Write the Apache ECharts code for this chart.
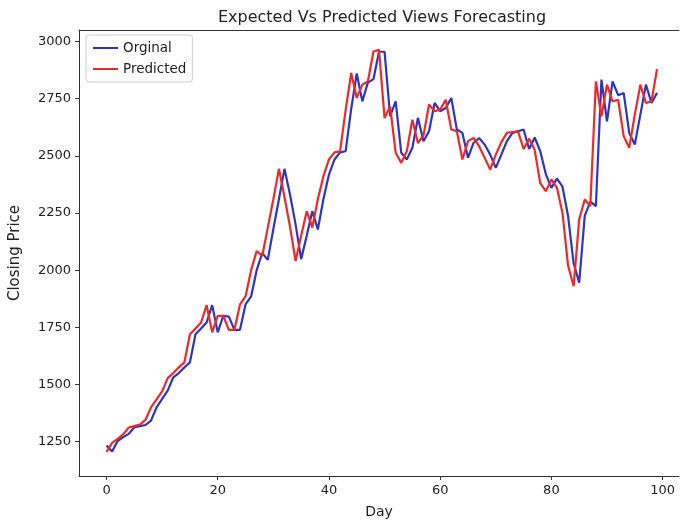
<!DOCTYPE html>
<html>
<head>
<meta charset="utf-8">
<script src="https://cdn.jsdelivr.net/npm/echarts@6/dist/echarts.min.js"></script>
<style>html,body{margin:0;padding:0;background:#fff;}#c{width:680px;height:524px;}</style>
</head>
<body>
<div id="c"></div>
<script>
const seriesNames = ['Orginal', 'Predicted'];
const original = [1233,1207,1253,1270,1284,1313,1318,1323,1342,1400,
  1437,1473,1531,1550,1575,1597,1720,1745,1771,1847,
  1728,1800,1797,1739,1739,1850,1885,2000,2075,2045,
  2180,2310,2443,2330,2200,2048,2150,2258,2178,2310,
  2418,2484,2515,2520,2705,2860,2738,2820,2835,2955,
  2955,2673,2738,2513,2484,2535,2666,2564,2607,2731,
  2695,2709,2753,2615,2600,2491,2556,2578,2549,2505,
  2447,2505,2564,2600,2607,2615,2530,2580,2520,2420,
  2360,2400,2365,2237,2030,1945,2237,2300,2280,2833,
  2651,2825,2765,2775,2600,2549,2680,2811,2731,2775];
const predicted = [1205,1245,1262,1282,1312,1318,1325,1345,1400,1435,
  1470,1528,1550,1575,1597,1720,1745,1771,1847,1728,
  1800,1800,1739,1739,1850,1885,2000,2084,2062,2186,
  2310,2443,2320,2190,2040,2150,2258,2186,2310,2410,
  2484,2515,2520,2700,2862,2753,2811,2825,2956,2963,
  2665,2716,2513,2469,2520,2658,2556,2590,2724,2695,
  2702,2745,2615,2607,2484,2564,2578,2542,2491,2440,
  2505,2560,2600,2604,2607,2530,2575,2525,2380,2345,
  2397,2360,2250,2020,1930,2222,2309,2280,2825,2673,
  2811,2738,2745,2586,2535,2680,2811,2731,2738,2879];
const xTicks = [0,20,40,60,80,100];
const yTicks = [1250,1500,1750,2000,2250,2500,2750,3000];

const FONT = 'DejaVu Sans';
const chart = echarts.init(document.getElementById('c'), null, {renderer: 'canvas'});
const toPairs = arr => arr.map((v, i) => [i, v]);
const X_MIN = -4.95, X_MAX = 102.95;
const axisLineStyle = {color: '#333', width: 1};
chart.setOption({
  animation: false,
  backgroundColor: '#fff',
  title: {
    text: 'Expected Vs Predicted Views Forecasting',
    left: 382, top: 10, padding: 0, textAlign: 'center',
    textStyle: {fontFamily: FONT, fontSize: 16, fontWeight: 'normal', color: '#222'}
  },
  grid: {left: 78, right: 1, top: 30, bottom: 46, show: false},
  legend: {
    orient: 'vertical', left: 86, top: 35, padding: [6, 6, 6, 7],
    itemWidth: 25, itemHeight: 2, itemGap: 7, icon: 'rect',
    backgroundColor: 'rgba(255,255,255,0.8)', borderColor: '#ccc', borderWidth: 1, borderRadius: 3,
    textStyle: {fontFamily: FONT, fontSize: 13.5, color: '#222'},
    data: seriesNames
  },
  xAxis: [{
    type: 'value', min: X_MIN, max: X_MAX, position: 'bottom',
    name: 'Day', nameLocation: 'middle', nameGap: 29,
    nameTextStyle: {fontFamily: FONT, fontSize: 14, color: '#222'},
    splitLine: {show: false},
    axisLine: {show: true, onZero: false, lineStyle: axisLineStyle},
    axisTick: {show: true, length: 4, lineStyle: axisLineStyle, customValues: xTicks},
    axisLabel: {color: '#222', fontSize: 13, fontFamily: FONT, margin: 8, customValues: xTicks,
      formatter: v => String(v)}
  }, {
    type: 'value', min: X_MIN, max: X_MAX, position: 'top',
    splitLine: {show: false},
    axisLine: {show: true, onZero: false, lineStyle: axisLineStyle},
    axisTick: {show: false}, axisLabel: {show: false}
  }],
  yAxis: {
    type: 'value', min: 1100, max: 3050,
    name: 'Closing Price', nameLocation: 'middle', nameGap: 56,
    nameTextStyle: {fontFamily: FONT, fontSize: 15, color: '#222'},
    splitLine: {show: false},
    axisLine: {show: true, onZero: false, lineStyle: axisLineStyle},
    axisTick: {show: true, length: 4, lineStyle: axisLineStyle, customValues: yTicks},
    axisLabel: {color: '#222', fontSize: 13, fontFamily: FONT, margin: 8, customValues: yTicks,
      formatter: v => String(v)}
  },
  series: [
    {name: seriesNames[0], type: 'line', data: toPairs(original), showSymbol: false, symbol: 'none',
     xAxisIndex: 0, lineStyle: {color: '#2b35c0', width: 2.2}, itemStyle: {color: '#2b35c0'}, z: 2},
    {name: seriesNames[1], type: 'line', data: toPairs(predicted), showSymbol: false, symbol: 'none',
     xAxisIndex: 0, lineStyle: {color: '#f02828', width: 2.2}, itemStyle: {color: '#f02828'}, z: 3}
  ]
});
</script>
</body>
</html>
